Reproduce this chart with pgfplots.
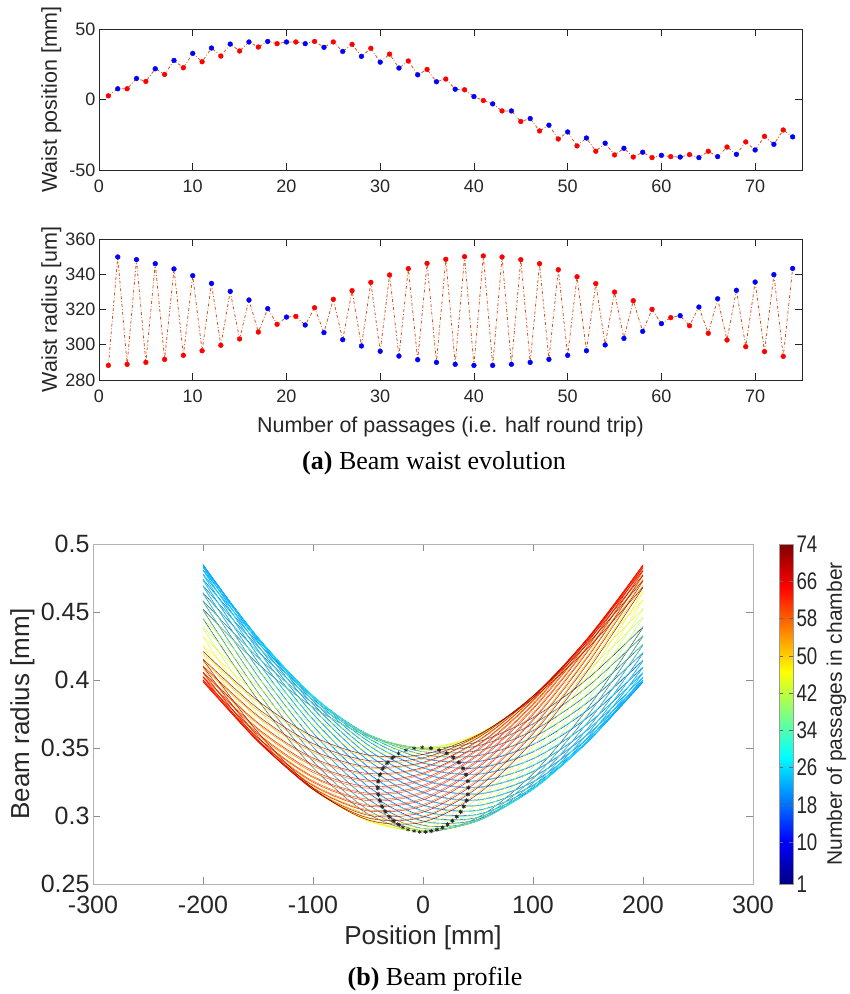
\documentclass[border=0pt]{standalone}
\usepackage{fontspec}
\setmainfont{Liberation Sans}
\newfontfamily\condsans[FakeStretch=0.78]{Liberation Sans}
\newfontfamily\capserif{Liberation Serif}
\usepackage{pgfplots}
\usepackage{pgfplotstable}
\pgfplotsset{compat=1.18}
\definecolor{mlorange}{rgb}{0.85,0.325,0.098}
\definecolor{mlaxis}{rgb}{0.15,0.15,0.15}
\pgfplotsset{
  cp/.style={smooth, line width=0.4pt},
  toppanel/.style={
    scale only axis, width=703pt, height=141pt,
    xmin=0, xmax=75, xtick={0,10,...,70},
    axis line style={mlaxis, line width=0.7pt},
    major tick style={mlaxis, line width=0.7pt},
    major tick length=7pt, tick align=inside,
    tick label style={font=\fontsize{18}{20}\selectfont, text=mlaxis},
    xticklabel style={yshift=-6pt},
    label style={font=\fontsize{21.5}{23}\selectfont, text=mlaxis},
    ylabel style={at={(axis description cs:-0.068,0.5)}, anchor=center},
    xlabel style={at={(axis description cs:0.5,-0.333)}, anchor=center},
    /pgf/number format/assume math mode=true,
  },
}
\pgfplotstableread{
n pos rad radmm c
1 2.6 288.3 0.2883 r
2 7.6 349.8 0.3498 b
3 7.6 288.9 0.2889 r
4 14.9 348.3 0.3483 b
5 12.8 290.0 0.2900 r
6 21.8 346.0 0.3460 b
7 17.8 291.7 0.2917 r
8 27.7 343.0 0.3430 b
9 22.5 294.0 0.2940 r
10 32.7 339.2 0.3392 b
11 26.8 296.6 0.2966 r
12 36.5 334.8 0.3348 b
13 30.8 299.7 0.2997 r
14 39.3 330.3 0.3303 b
15 34.4 303.3 0.3033 r
16 40.8 325.4 0.3254 b
17 37.2 307.2 0.3072 r
18 41.2 320.5 0.3205 b
19 39.6 311.6 0.3116 r
20 40.8 315.7 0.3157 b
21 40.8 316.1 0.3161 r
22 39.6 311.2 0.3112 b
23 41.2 321.0 0.3210 r
24 37.0 306.9 0.3069 b
25 40.8 325.8 0.3258 r
26 34.1 302.9 0.3029 b
27 39.1 330.7 0.3307 r
28 30.6 299.3 0.2993 b
29 36.3 335.4 0.3354 r
30 26.5 296.3 0.2963 b
31 32.2 339.6 0.3396 r
32 22.3 293.6 0.2936 b
33 27.3 343.2 0.3432 r
34 17.5 291.5 0.2915 b
35 21.3 346.2 0.3462 r
36 12.6 290.0 0.2900 b
37 14.5 348.5 0.3485 r
38 7.3 288.9 0.2889 b
39 6.9 350.0 0.3500 r
40 2.1 288.3 0.2883 b
41 -0.7 350.4 0.3504 r
42 -3.1 288.3 0.2883 b
43 -8.1 349.8 0.3498 r
44 -8.1 288.9 0.2889 b
45 -15.6 348.3 0.3483 r
46 -13.5 290.0 0.2900 b
47 -22.3 346.0 0.3460 r
48 -18.2 291.7 0.2917 b
49 -28.0 342.6 0.3426 r
50 -23.0 294.0 0.2940 b
51 -32.9 338.6 0.3386 r
52 -27.3 296.6 0.2966 b
53 -36.7 334.7 0.3347 r
54 -31.0 299.9 0.2999 b
55 -39.3 329.9 0.3299 r
56 -34.6 303.6 0.3036 b
57 -40.8 325.0 0.3250 r
58 -37.4 307.6 0.3076 b
59 -41.2 320.1 0.3201 r
60 -39.6 312.0 0.3120 b
61 -40.5 315.4 0.3154 r
62 -40.8 316.5 0.3165 b
63 -39.1 310.8 0.3108 r
64 -41.2 321.4 0.3214 b
65 -36.7 306.5 0.3065 r
66 -40.5 326.1 0.3261 b
67 -33.7 302.7 0.3027 r
68 -38.9 330.9 0.3309 b
69 -30.1 298.9 0.2989 r
70 -35.8 335.6 0.3356 b
71 -26.1 296.1 0.2961 r
72 -31.8 339.8 0.3398 b
73 -21.6 293.4 0.2934 r
74 -26.5 343.3 0.3433 b
}\waist
\begin{document}
\begin{tikzpicture}
\path[use as bounding box] (0pt,0pt) rectangle (850pt,-994pt);
% ---------- top panel ----------
\begin{axis}[toppanel, at={(99pt,-170pt)}, anchor=south west,
  ymin=-50, ymax=50, ytick={-50,0,50}, ylabel={Waist position [mm]}]
\addplot[mlorange, line width=0.8pt, dash dot, no marks] table[x=n,y=pos]{\waist};
\addplot[scatter, only marks, scatter src=explicit symbolic,
  scatter/classes={r={mark=*,red,mark size=2.4pt}, b={mark=*,blue,mark size=2.4pt}}]
  table[x=n,y=pos,meta=c]{\waist};
\end{axis}
% ---------- middle panel ----------
\begin{axis}[toppanel, at={(99pt,-380pt)}, anchor=south west,
  ymin=280, ymax=360, ytick={280,300,...,360}, ylabel={Waist radius [um]},
  xlabel={Number of passages (i.e. half round trip)}]
\addplot[mlorange, line width=0.8pt, dash dot, no marks] table[x=n,y=rad]{\waist};
\addplot[scatter, only marks, scatter src=explicit symbolic,
  scatter/classes={r={mark=*,red,mark size=2.4pt}, b={mark=*,blue,mark size=2.4pt}}]
  table[x=n,y=rad,meta=c]{\waist};
\end{axis}
\node[font=\capserif\fontsize{26}{29}\selectfont] at (434pt,-463pt) {\textbf{(a)} Beam waist evolution};
% ---------- bottom panel ----------
\begin{axis}[scale only axis, width=660pt, height=340pt, at={(93pt,-884pt)}, anchor=south west,
  xmin=-300, xmax=300, ymin=0.25, ymax=0.5,
  xtick={-300,-200,...,300}, ytick={0.25,0.3,0.35,0.4,0.45,0.5},
  axis line style={black!30, line width=0.7pt},
  major tick style={black!45, line width=0.7pt},
  major tick length=7pt, tick align=inside,
  tick label style={font=\fontsize{25}{27}\selectfont, text=mlaxis},
  xticklabel style={yshift=-8pt},
  label style={font=\fontsize{26}{28}\selectfont, text=mlaxis},
  xlabel={Position [mm]}, ylabel={Beam radius [mm]},
  xlabel style={at={(axis description cs:0.5,-0.159)}, anchor=center},
  ylabel style={at={(axis description cs:-0.107,0.5)}, anchor=center},
  /pgf/number format/assume math mode=true,
  colormap/jet, point meta min=1, point meta max=74,
  colorbar,
  colorbar style={at={(parent axis.north east)}, anchor=north west, xshift=17.5pt,
    width=14pt, xtick=\empty, xlabel={},
    ytick={1,10,18,26,34,42,50,58,66,74},
    /pgf/number format/assume math mode=true,
    yticklabel style={font=\condsans\fontsize{24}{26}\selectfont, text=mlaxis},
    ylabel={Number of passages in chamber},
    ylabel style={at={(axis description cs:4.1,0.5)}, anchor=center, font=\fontsize{21}{23}\selectfont, text=mlaxis},
    axis line style={black!40, line width=0.5pt},
    major tick length=4pt, major tick style={black!60, line width=0.5pt}}]
\addplot[cp, color of colormap={0}] coordinates {(-200,.4452)(-150,.3852)(-100,.3356)(-50,.3015)(0,.2883)(50,.2990)(100,.3312)(150,.3795)(200,.4386)};
\addplot[cp, color of colormap={13.7}] coordinates {(-200,.4521)(-150,.4119)(-100,.3800)(-50,.3587)(0,.3500)(50,.3546)(100,.3723)(150,.4012)(200,.4391)};
\addplot[cp, color of colormap={27.4}] coordinates {(-200,.4514)(-150,.3909)(-100,.3403)(-50,.3045)(0,.2892)(50,.2975)(100,.3276)(150,.3743)(200,.4322)};
\addplot[cp, color of colormap={41.1}] coordinates {(-200,.4583)(-150,.4166)(-100,.3830)(-50,.3597)(0,.3489)(50,.3517)(100,.3677)(150,.3954)(200,.4326)};
\addplot[cp, color of colormap={54.8}] coordinates {(-200,.4578)(-150,.3969)(-100,.3455)(-50,.3083)(0,.2908)(50,.2966)(100,.3243)(150,.3691)(200,.4257)};
\addplot[cp, color of colormap={68.5}] coordinates {(-200,.4642)(-150,.4209)(-100,.3855)(-50,.3602)(0,.3473)(50,.3482)(100,.3628)(150,.3895)(200,.4261)};
\addplot[cp, color of colormap={82.2}] coordinates {(-200,.4636)(-150,.4027)(-100,.3508)(-50,.3125)(0,.2932)(50,.2965)(100,.3218)(150,.3646)(200,.4195)};
\addplot[cp, color of colormap={95.9}] coordinates {(-200,.4694)(-150,.4245)(-100,.3872)(-50,.3600)(0,.3452)(50,.3444)(100,.3578)(150,.3837)(200,.4200)};
\addplot[cp, color of colormap={109.6}] coordinates {(-200,.4689)(-150,.4082)(-100,.3562)(-50,.3172)(0,.2963)(50,.2975)(100,.3204)(150,.3609)(200,.4140)};
\addplot[cp, color of colormap={123.3}] coordinates {(-200,.4740)(-150,.4274)(-100,.3882)(-50,.3590)(0,.3424)(50,.3401)(100,.3525)(150,.3781)(200,.4144)};
\addplot[cp, color of colormap={137.0}] coordinates {(-200,.4735)(-150,.4132)(-100,.3613)(-50,.3218)(0,.2998)(50,.2990)(100,.3196)(150,.3580)(200,.4092)};
\addplot[cp, color of colormap={150.7}] coordinates {(-200,.4779)(-150,.4294)(-100,.3884)(-50,.3573)(0,.3389)(50,.3354)(100,.3471)(150,.3726)(200,.4095)};
\addplot[cp, color of colormap={164.4}] coordinates {(-200,.4775)(-150,.4179)(-100,.3663)(-50,.3267)(0,.3038)(50,.3013)(100,.3198)(150,.3559)(200,.4051)};
\addplot[cp, color of colormap={178.1}] coordinates {(-200,.4811)(-150,.4309)(-100,.3880)(-50,.3551)(0,.3353)(50,.3307)(100,.3420)(150,.3678)(200,.4053)};
\addplot[cp, color of colormap={191.8}] coordinates {(-200,.4808)(-150,.4220)(-100,.3711)(-50,.3317)(0,.3082)(50,.3043)(100,.3208)(150,.3547)(200,.4018)};
\addplot[cp, color of colormap={205.5}] coordinates {(-200,.4832)(-150,.4313)(-100,.3867)(-50,.3522)(0,.3310)(50,.3257)(100,.3370)(150,.3635)(200,.4021)};
\addplot[cp, color of colormap={219.2}] coordinates {(-200,.4830)(-150,.4253)(-100,.3753)(-50,.3364)(0,.3127)(50,.3078)(100,.3227)(150,.3547)(200,.3998)};
\addplot[cp, color of colormap={232.9}] coordinates {(-200,.4844)(-150,.4309)(-100,.3846)(-50,.3487)(0,.3264)(50,.3208)(100,.3325)(150,.3600)(200,.3999)};
\addplot[cp, color of colormap={246.6}] coordinates {(-200,.4846)(-150,.4282)(-100,.3793)(-50,.3411)(0,.3176)(50,.3120)(100,.3253)(150,.3554)(200,.3986)};
\addplot[cp, color of colormap={260.3}] coordinates {(-200,.4850)(-150,.4299)(-100,.3821)(-50,.3449)(0,.3218)(50,.3160)(100,.3284)(150,.3571)(200,.3987)};
\addplot[cp, color of colormap={274.0}] coordinates {(-200,.4849)(-150,.4299)(-100,.3823)(-50,.3452)(0,.3222)(50,.3164)(100,.3288)(150,.3574)(200,.3988)};
\addplot[cp, color of colormap={287.7}] coordinates {(-200,.4847)(-150,.4282)(-100,.3791)(-50,.3408)(0,.3172)(50,.3116)(100,.3250)(150,.3552)(200,.3984)};
\addplot[cp, color of colormap={301.4}] coordinates {(-200,.4843)(-150,.4309)(-100,.3849)(-50,.3490)(0,.3269)(50,.3213)(100,.3330)(150,.3603)(200,.4001)};
\addplot[cp, color of colormap={315.1}] coordinates {(-200,.4829)(-150,.4251)(-100,.3750)(-50,.3360)(0,.3124)(50,.3076)(100,.3225)(150,.3547)(200,.3999)};
\addplot[cp, color of colormap={328.8}] coordinates {(-200,.4831)(-150,.4313)(-100,.3869)(-50,.3525)(0,.3314)(50,.3261)(100,.3374)(150,.3638)(200,.4022)};
\addplot[cp, color of colormap={342.5}] coordinates {(-200,.4806)(-150,.4217)(-100,.3707)(-50,.3312)(0,.3077)(50,.3040)(100,.3206)(150,.3548)(200,.4021)};
\addplot[cp, color of colormap={356.2}] coordinates {(-200,.4808)(-150,.4308)(-100,.3881)(-50,.3554)(0,.3356)(50,.3311)(100,.3424)(150,.3682)(200,.4056)};
\addplot[cp, color of colormap={369.9}] coordinates {(-200,.4774)(-150,.4176)(-100,.3660)(-50,.3263)(0,.3033)(50,.3009)(100,.3195)(150,.3559)(200,.4052)};
\addplot[cp, color of colormap={383.6}] coordinates {(-200,.4776)(-150,.4294)(-100,.3885)(-50,.3576)(0,.3394)(50,.3360)(100,.3477)(150,.3732)(200,.4099)};
\addplot[cp, color of colormap={397.3}] coordinates {(-200,.4732)(-150,.4129)(-100,.3609)(-50,.3214)(0,.2994)(50,.2988)(100,.3196)(150,.3581)(200,.4095)};
\addplot[cp, color of colormap={411.0}] coordinates {(-200,.4735)(-150,.4271)(-100,.3881)(-50,.3591)(0,.3427)(50,.3405)(100,.3530)(150,.3786)(200,.4150)};
\addplot[cp, color of colormap={424.7}] coordinates {(-200,.4688)(-150,.4080)(-100,.3558)(-50,.3167)(0,.2959)(50,.2971)(100,.3202)(150,.3609)(200,.4142)};
\addplot[cp, color of colormap={438.4}] coordinates {(-200,.4690)(-150,.4242)(-100,.3871)(-50,.3600)(0,.3453)(50,.3447)(100,.3581)(150,.3842)(200,.4204)};
\addplot[cp, color of colormap={452.1}] coordinates {(-200,.4633)(-150,.4024)(-100,.3505)(-50,.3122)(0,.2929)(50,.2964)(100,.3219)(150,.3648)(200,.4199)};
\addplot[cp, color of colormap={465.8}] coordinates {(-200,.4637)(-150,.4206)(-100,.3853)(-50,.3602)(0,.3475)(50,.3485)(100,.3632)(150,.3899)(200,.4265)};
\addplot[cp, color of colormap={479.5}] coordinates {(-200,.4575)(-150,.3967)(-100,.3453)(-50,.3082)(0,.2908)(50,.2966)(100,.3245)(150,.3693)(200,.4259)};
\addplot[cp, color of colormap={493.2}] coordinates {(-200,.4579)(-150,.4164)(-100,.3829)(-50,.3598)(0,.3491)(50,.3520)(100,.3681)(150,.3958)(200,.4330)};
\addplot[cp, color of colormap={506.8}] coordinates {(-200,.4510)(-150,.3906)(-100,.3400)(-50,.3044)(0,.2892)(50,.2976)(100,.3278)(150,.3746)(200,.4326)};
\addplot[cp, color of colormap={520.5}] coordinates {(-200,.4516)(-150,.4115)(-100,.3798)(-50,.3587)(0,.3501)(50,.3550)(100,.3728)(150,.4018)(200,.4398)};
\addplot[cp, color of colormap={534.2}] coordinates {(-200,.4445)(-150,.3847)(-100,.3352)(-50,.3012)(0,.2883)(50,.2992)(100,.3316)(150,.3800)(200,.4392)};
\addplot[cp, color of colormap={547.9}] coordinates {(-200,.4452)(-150,.4063)(-100,.3761)(-50,.3569)(0,.3504)(50,.3573)(100,.3769)(150,.4073)(200,.4464)};
\addplot[cp, color of colormap={561.6}] coordinates {(-200,.4379)(-150,.3790)(-100,.3308)(-50,.2988)(0,.2884)(50,.3017)(100,.3360)(150,.3858)(200,.4458)};
\addplot[cp, color of colormap={575.3}] coordinates {(-200,.4387)(-150,.4009)(-100,.3721)(-50,.3545)(0,.3500)(50,.3589)(100,.3803)(150,.4123)(200,.4526)};
\addplot[cp, color of colormap={589.0}] coordinates {(-200,.4316)(-150,.3737)(-100,.3272)(-50,.2973)(0,.2892)(50,.3048)(100,.3407)(150,.3915)(200,.4521)};
\addplot[cp, color of colormap={602.7}] coordinates {(-200,.4320)(-150,.3950)(-100,.3674)(-50,.3515)(0,.3490)(50,.3600)(100,.3834)(150,.4171)(200,.4589)};
\addplot[cp, color of colormap={616.4}] coordinates {(-200,.4248)(-150,.3684)(-100,.3238)(-50,.2963)(0,.2909)(50,.3087)(100,.3461)(150,.3977)(200,.4587)};
\addplot[cp, color of colormap={630.1}] coordinates {(-200,.4256)(-150,.3892)(-100,.3626)(-50,.3482)(0,.3474)(50,.3604)(100,.3858)(150,.4213)(200,.4646)};
\addplot[cp, color of colormap={643.8}] coordinates {(-200,.4190)(-150,.3642)(-100,.3216)(-50,.2964)(0,.2933)(50,.3128)(100,.3512)(150,.4032)(200,.4642)};
\addplot[cp, color of colormap={657.5}] coordinates {(-200,.4196)(-150,.3833)(-100,.3573)(-50,.3440)(0,.3449)(50,.3598)(100,.3872)(150,.4246)(200,.4696)};
\addplot[cp, color of colormap={671.2}] coordinates {(-200,.4134)(-150,.3604)(-100,.3200)(-50,.2973)(0,.2964)(50,.3175)(100,.3567)(150,.4088)(200,.4696)};
\addplot[cp, color of colormap={684.9}] coordinates {(-200,.4140)(-150,.3775)(-100,.3518)(-50,.3395)(0,.3418)(50,.3586)(100,.3880)(150,.4273)(200,.4742)};
\addplot[cp, color of colormap={698.6}] coordinates {(-200,.4086)(-150,.3576)(-100,.3193)(-50,.2989)(0,.2999)(50,.3222)(100,.3618)(150,.4138)(200,.4742)};
\addplot[cp, color of colormap={712.3}] coordinates {(-200,.4093)(-150,.3725)(-100,.3469)(-50,.3352)(0,.3389)(50,.3573)(100,.3884)(150,.4296)(200,.4781)};
\addplot[cp, color of colormap={726.0}] coordinates {(-200,.4049)(-150,.3559)(-100,.3198)(-50,.3015)(0,.3040)(50,.3270)(100,.3666)(150,.4181)(200,.4777)};
\addplot[cp, color of colormap={739.7}] coordinates {(-200,.4051)(-150,.3675)(-100,.3416)(-50,.3303)(0,.3349)(50,.3548)(100,.3878)(150,.4308)(200,.4811)};
\addplot[cp, color of colormap={753.4}] coordinates {(-200,.4017)(-150,.3547)(-100,.3209)(-50,.3046)(0,.3085)(50,.3321)(100,.3714)(150,.4223)(200,.4809)};
\addplot[cp, color of colormap={767.1}] coordinates {(-200,.4019)(-150,.3632)(-100,.3367)(-50,.3253)(0,.3306)(50,.3519)(100,.3865)(150,.4312)(200,.4833)};
\addplot[cp, color of colormap={780.8}] coordinates {(-200,.3996)(-150,.3547)(-100,.3229)(-50,.3082)(0,.3131)(50,.3368)(100,.3756)(150,.4255)(200,.4831)};
\addplot[cp, color of colormap={794.5}] coordinates {(-200,.3997)(-150,.3597)(-100,.3321)(-50,.3204)(0,.3261)(50,.3484)(100,.3845)(150,.4308)(200,.4845)};
\addplot[cp, color of colormap={808.2}] coordinates {(-200,.3987)(-150,.3557)(-100,.3257)(-50,.3124)(0,.3179)(50,.3414)(100,.3795)(150,.4283)(200,.4845)};
\addplot[cp, color of colormap={821.9}] coordinates {(-200,.3988)(-150,.3572)(-100,.3283)(-50,.3157)(0,.3214)(50,.3445)(100,.3817)(150,.4295)(200,.4847)};
\addplot[cp, color of colormap={835.6}] coordinates {(-200,.3989)(-150,.3576)(-100,.3291)(-50,.3168)(0,.3226)(50,.3455)(100,.3825)(150,.4299)(200,.4848)};
\addplot[cp, color of colormap={849.3}] coordinates {(-200,.3988)(-150,.3553)(-100,.3249)(-50,.3113)(0,.3167)(50,.3402)(100,.3785)(150,.4276)(200,.4842)};
\addplot[cp, color of colormap={863.0}] coordinates {(-200,.4002)(-150,.3606)(-100,.3333)(-50,.3217)(0,.3273)(50,.3494)(100,.3851)(150,.4310)(200,.4843)};
\addplot[cp, color of colormap={876.7}] coordinates {(-200,.4001)(-150,.3547)(-100,.3223)(-50,.3072)(0,.3119)(50,.3355)(100,.3745)(150,.4247)(200,.4826)};
\addplot[cp, color of colormap={890.4}] coordinates {(-200,.4026)(-150,.3642)(-100,.3378)(-50,.3264)(0,.3316)(50,.3525)(100,.3868)(150,.4311)(200,.4828)};
\addplot[cp, color of colormap={904.1}] coordinates {(-200,.4024)(-150,.3550)(-100,.3206)(-50,.3038)(0,.3074)(50,.3308)(100,.3703)(150,.4212)(200,.4801)};
\addplot[cp, color of colormap={917.8}] coordinates {(-200,.4059)(-150,.3685)(-100,.3427)(-50,.3313)(0,.3357)(50,.3554)(100,.3880)(150,.4306)(200,.4806)};
\addplot[cp, color of colormap={931.5}] coordinates {(-200,.4057)(-150,.3561)(-100,.3195)(-50,.3006)(0,.3028)(50,.3257)(100,.3653)(150,.4170)(200,.4769)};
\addplot[cp, color of colormap={945.2}] coordinates {(-200,.4104)(-150,.3736)(-100,.3481)(-50,.3362)(0,.3395)(50,.3576)(100,.3883)(150,.4290)(200,.4771)};
\addplot[cp, color of colormap={958.9}] coordinates {(-200,.4099)(-150,.3584)(-100,.3197)(-50,.2986)(0,.2991)(50,.3210)(100,.3605)(150,.4124)(200,.4728)};
\addplot[cp, color of colormap={972.6}] coordinates {(-200,.4154)(-150,.3790)(-100,.3533)(-50,.3408)(0,.3428)(50,.3591)(100,.3880)(150,.4268)(200,.4732)};
\addplot[cp, color of colormap={986.3}] coordinates {(-200,.4150)(-150,.3615)(-100,.3205)(-50,.2971)(0,.2955)(50,.3162)(100,.3551)(150,.4072)(200,.4680)};
\addplot[cp, color of colormap={1000}] coordinates {(-200,.4211)(-150,.3847)(-100,.3585)(-50,.3449)(0,.3453)(50,.3597)(100,.3866)(150,.4236)(200,.4683)};
\addplot[only marks, mark=asterisk, mark size=2pt, black!85, line width=0.6pt] table[x=pos,y=radmm]{\waist};
\end{axis}
\node[font=\capserif\fontsize{26}{29}\selectfont] at (435pt,-979pt) {\textbf{(b)} Beam profile};
\end{tikzpicture}
\end{document}
